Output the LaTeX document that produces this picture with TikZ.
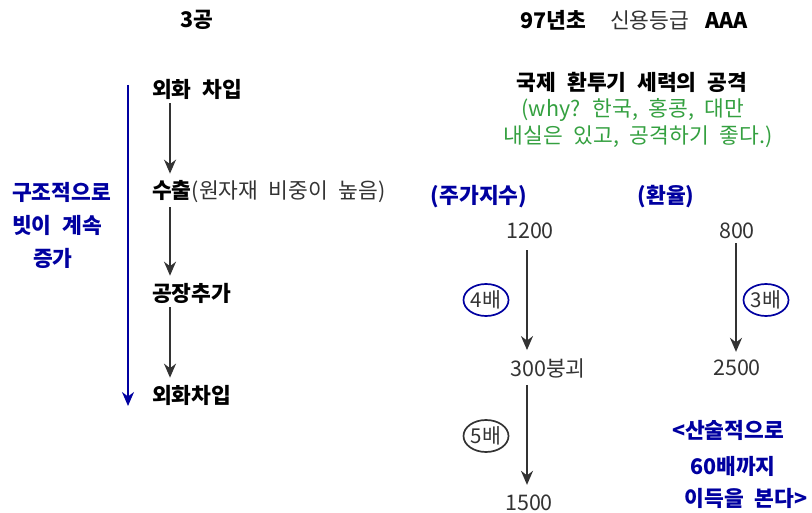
\documentclass[tikz,border=0pt]{standalone}
\usepackage{fontspec}
\setmainfont{Noto Sans CJK KR}[WordSpace=2.2]
\usetikzlibrary{arrows.meta,shapes.geometric}
\definecolor{txtgray}{HTML}{333333}
\definecolor{dblue}{HTML}{0000A0}
\definecolor{dgreen}{HTML}{34A040}
\newcommand\fs{\fontsize{21.5}{26}\selectfont}
\newcommand\fss{\fontsize{20.5}{24}\selectfont}
\begin{document}
\begin{tikzpicture}[x=1pt,y=-1pt,
  every node/.style={font=\fs, inner sep=2pt},
  bt/.style={text=black, font=\fs\bfseries},
  nt/.style={text=txtgray},
  bl/.style={text=dblue, font=\fs\bfseries},
  gr/.style={text=dgreen},
  arr/.style={draw=txtgray, line width=1.9pt, -{Stealth[length=14pt,width=12pt,inset=4.5pt]}},
  barr/.style={draw=dblue, line width=1.9pt, -{Stealth[length=14pt,width=12pt,inset=4.5pt]}},
  oval/.style={ellipse, draw, line width=1.7pt, minimum width=45pt, minimum height=32pt, inner sep=-1.5pt, text=txtgray, font=\fss}
]
\useasboundingbox (0,0) rectangle (812,513);
% titles
\node[bt] (t3) at (197,20) {3공};
\node[bt, anchor=west] (t97) at (518,20) {97년초};
\node[nt, anchor=west] (tcr) at (608,20) {신용등급};
\node[bt, anchor=west] (taaa) at (703,20) {AAA};
% left column
\node[bt, anchor=west] (a1) at (150,89) {외화 차입};
\node[anchor=west] (a2) at (150,192) {{\bfseries 수출}{\color{txtgray}(원자재 비중이 높음)}};
\node[bt, anchor=west] (a3) at (150,293) {공장추가};
\node[bt, anchor=west] (a4) at (150,395) {외화차입};
\draw[arr] ([xshift=20pt,yshift=-2pt]a1.south west) -- ([xshift=20pt,yshift=5pt]a2.north west);
\draw[arr] ([xshift=20pt,yshift=-2pt]a2.south west) -- ([xshift=20pt,yshift=5pt]a3.north west);
\draw[arr] ([xshift=20pt,yshift=-2pt]a3.south west) -- ([xshift=20pt,yshift=5pt]a4.north west);
% blue side
\node[bl, anchor=west] (l1) at (10,192) {구조적으로};
\node[bl, anchor=west] (l2) at (10,225) {빗이 계속};
\node[bl, anchor=west] (l3) at (31,258) {증가};
\coordinate (b1) at (128,85);
\coordinate (b2) at (128,406);
\draw[barr] (b1) -- (b2);
% right part
\node[bt] (h1) at (632,82) {국제 환투기 세력의 공격};
\node[gr] (g1) at (633,110) {(why? 한국, 홍콩, 대만};
\node[gr] (g2) at (638,137) {내실은 있고, 공격하기 좋다.)};
\node[bl] (s1) at (479,197) {(주가지수)};
\node[bl] (s2) at (666,197) {(환율)};
\node[nt] (n1) at (530,231) {1200};
\node[nt] (n2) at (737,231) {800};
\node[nt] (n3) at (548,368) {300붕괴};
\node[nt] (n4) at (737,368) {2500};
\node[nt] (n5) at (529,503) {1500};
\node[oval, draw=dblue] (o1) at (486,300) {4배};
\node[oval, draw=dblue] (o2) at (766,300) {3배};
\node[oval, draw=txtgray] (o3) at (486,436) {5배};
\draw[arr] ([xshift=-3pt,yshift=-9pt]n1.south) -- ([xshift=-21pt,yshift=6pt]n3.north);
\draw[arr] ([xshift=-1pt,yshift=-2pt]n2.south) -- ([xshift=-1pt,yshift=6pt]n4.north);
\draw[arr] ([xshift=-21pt,yshift=-5pt]n3.south) -- ([xshift=-2pt,yshift=8pt]n5.north);
\node[bl] (c1) at (728,430) {<산술적으로};
\node[bl] (c2) at (733,466) {60배까지};
\node[bl] (c3) at (746,498) {이득을 본다>};
\end{tikzpicture}
\end{document}
